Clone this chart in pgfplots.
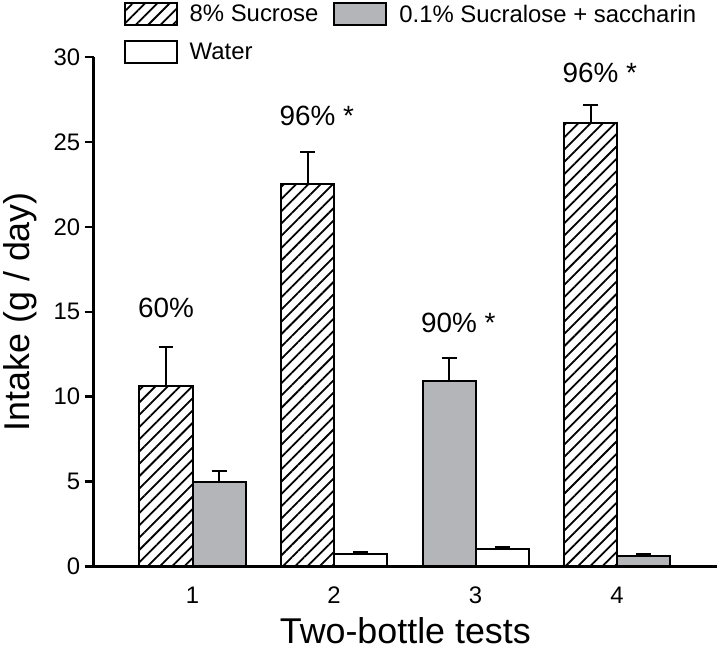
\documentclass[border=0pt]{standalone}
\usepackage{fontspec}
\setmainfont{Liberation Sans}
\usepackage{pgfplots}
\pgfplotsset{compat=1.18}
\usetikzlibrary{patterns.meta}
\definecolor{barGray}{RGB}{180,181,184}
\begin{document}
\begin{tikzpicture}
\begin{axis}[
  scale only axis,
  width=624bp, height=510bp,
  xmin=0.301, xmax=4.706, ymin=0, ymax=30,
  axis x line=bottom, axis y line=left,
  axis line style={line width=2.6bp, -},
  xtick={1,2,3,4},
  x tick style={draw=none},
  ytick={0,5,10,15,20,25,30},
  y tick style={line width=2.4bp, black},
  major tick length=9bp,
  tick align=outside,
  /pgf/number format/assume math mode=true,
  ticklabel style={font=\fontsize{24}{27}\selectfont},
  yticklabel style={xshift=-1bp},
  xticklabel style={yshift=-8bp},
  xlabel={Two-bottle tests},
  ylabel={Intake (g / day)},
  xlabel style={font=\fontsize{36}{40}\selectfont, yshift=-7bp},
  ylabel style={font=\fontsize{36}{40}\selectfont, yshift=10bp},
  clip=false,
  ybar, bar shift=0pt, bar width=0.375,
  legend columns=2,
  legend cell align=left,
  legend style={draw=none, fill=none, inner xsep=0pt, inner ysep=0pt,
    at={(axis description cs:0.048,1.108)}, anchor=north west,
    font=\fontsize{24}{28}\selectfont,
    /tikz/every odd column/.append style={column sep=10bp},
    /tikz/every even column/.append style={column sep=13bp},
    row sep=14bp},
  legend image code/.code={\draw[#1, line width=2bp] (0bp,-11bp) rectangle (52bp,11bp);},
  error bars/y dir=plus, error bars/y explicit,
  error bars/error bar style={line width=2bp, black},
  error bars/error mark options={line width=2bp, black, mark size=7.5bp, rotate=90},
]
\addplot[draw=black, line width=2bp, fill=white,
  pattern={Lines[angle=45, distance=8.7bp, line width=1.8bp]}]
  coordinates {(0.8125,10.65) +- (0,2.25) (1.8125,22.5) +- (0,1.9) (3.8125,26.1) +- (0,1.1)};
\addlegendentry{8\% Sucrose}
\addplot[draw=black, line width=2bp, fill=barGray]
  coordinates {(1.1875,5.0) +- (0,0.6) (2.8125,10.9) +- (0,1.4) (4.1875,0.6) +- (0,0.15)};
\addlegendentry{0.1\% Sucralose + saccharin}
\addplot[draw=black, line width=2bp, fill=white]
  coordinates {(2.1875,0.75) +- (0,0.08) (3.1875,1.0) +- (0,0.12)};
\addlegendentry{Water}
\begin{scope}[font=\fontsize{28}{32}\selectfont]
\node at (axis cs:0.8125,15.2) {60\%};
\node at (axis cs:1.8125,26.5) {96\%\rlap{ *}};
\node at (axis cs:2.8125,14.35) {90\%\rlap{ *}};
\node at (axis cs:3.8125,29.05) {96\%\rlap{ *}};
\end{scope}
\path (rel axis cs:-0.149,-0.1686) rectangle (rel axis cs:1.0048,1.1118);
\end{axis}
\end{tikzpicture}
\end{document}
